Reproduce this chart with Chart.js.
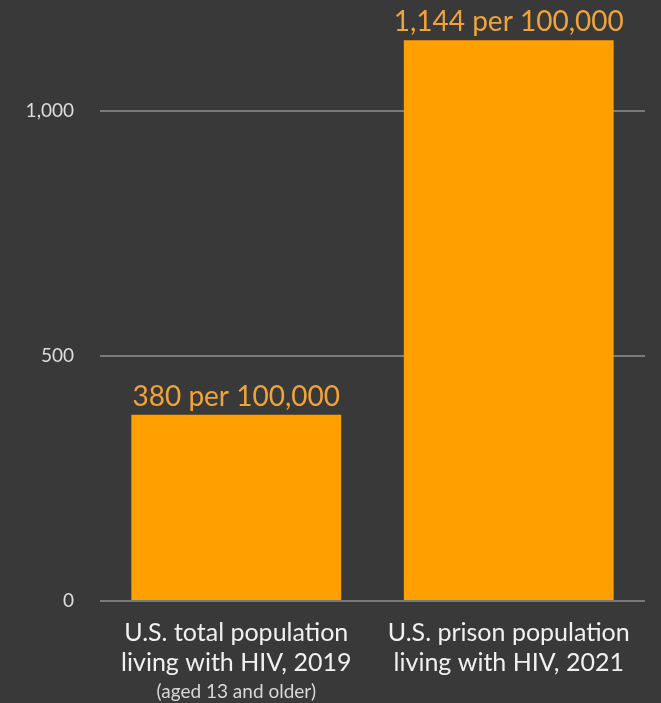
<!DOCTYPE html>
<html>
<head>
<meta charset="utf-8">
<script src="https://cdn.jsdelivr.net/npm/chart.js"></script>
<style>
  html, body { margin: 0; padding: 0; background: #3a3939; }
  #wrap { width: 661px; height: 703px; }
</style>
</head>
<body>
<div id="wrap"><canvas id="chart"></canvas></div>
<script>
// HIV prevalence, per 100,000
const categories = [
  ['U.S. total population', 'living with HIV, 2019'],
  ['U.S. prison population', 'living with HIV, 2021']
]
const notes = ['(aged 13 and older)', '']
const rates = [380, 1144]
const rateLabels = ['380 per 100,000', '1,144 per 100,000']
const yTicks = [0, 500, 1000]

const FONT = 'Lato, "Noto Sans", sans-serif'

// value text above each bar + small note under the first category
const annotations = {
  id: 'annotations',
  afterDatasetsDraw(chart) {
    const ctx = chart.ctx
    const meta = chart.getDatasetMeta(0)
    ctx.save()
    ctx.textAlign = 'center'
    ctx.textBaseline = 'alphabetic'
    ctx.font = '28px ' + FONT
    ctx.fillStyle = '#efa33a'
    meta.data.forEach((bar, i) => {
      ctx.fillText(rateLabels[i], bar.x, bar.y - 9)
    })
    const x = chart.scales.x
    ctx.font = '19px ' + FONT
    ctx.fillStyle = '#d8d8d8'
    notes.forEach((n, i) => {
      if (n) ctx.fillText(n, x.getPixelForValue(i), 698)
    })
    ctx.restore()
  }
}

new Chart(document.getElementById('chart'), {
  type: 'bar',
  data: {
    labels: categories,
    datasets: [{
      data: rates,
      backgroundColor: '#ff9f00',
      barPercentage: 0.77,
      categoryPercentage: 1
    }]
  },
  options: {
    responsive: true,
    maintainAspectRatio: false,
    animation: false,
    layout: { padding: { top: 0, right: 16, left: 0, bottom: 0 } },
    plugins: {
      legend: { display: false },
      tooltip: { enabled: false }
    },
    scales: {
      x: {
        grid: { display: false },
        border: { display: false },
        afterFit: (scale) => { scale.height = 102 },
        ticks: {
          color: '#f0f0f0',
          padding: 9,
          maxRotation: 0,
          font: { family: FONT, size: 25, lineHeight: 1.2 }
        }
      },
      y: {
        min: 0,
        max: 1150,
        afterFit: (scale) => { scale.width = 100 },
        afterBuildTicks: (scale) => { scale.ticks = yTicks.map(v => ({ value: v })) },
        grid: { color: '#7a7a7a', lineWidth: 2, drawTicks: false },
        border: { display: false },
        ticks: {
          color: '#dddddd',
          padding: 26,
          font: { family: FONT, size: 19 },
          callback: (v) => v.toLocaleString('en-US')
        }
      }
    }
  },
  plugins: [annotations]
})
</script>
</body>
</html>
